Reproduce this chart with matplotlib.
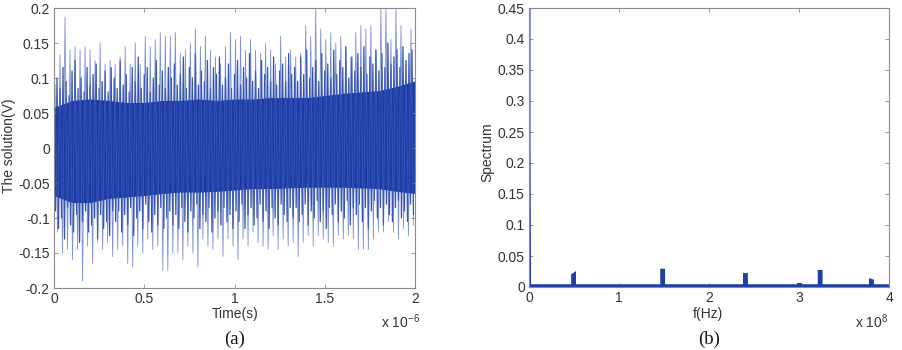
import numpy as np
import matplotlib
matplotlib.use("Agg")
import matplotlib.pyplot as plt

plt.rcParams['font.family'] = ['Liberation Sans', 'DejaVu Sans']
plt.rcParams['mathtext.default'] = 'regular'
plt.rcParams['path.simplify'] = False

# ---------------- data: panel (a) ----------------
# tall upper spikes (V), spread over 0..2e-6 s
spike_hi = [0.09, 0.133, 0.187, 0.14, 0.145, 0.14, 0.145, 0.14, 0.125, 0.15,
            0.12, 0.125, 0.12, 0.13, 0.145, 0.12, 0.15, 0.12, 0.16, 0.145,
            0.155, 0.165, 0.16, 0.16, 0.165, 0.135, 0.14, 0.15, 0.17, 0.145,
            0.16, 0.14, 0.13, 0.12, 0.145, 0.165, 0.155, 0.16, 0.14, 0.155,
            0.14, 0.135, 0.15, 0.14, 0.12, 0.16, 0.13, 0.14, 0.13, 0.135,
            0.175, 0.16, 0.2, 0.17, 0.155, 0.165, 0.15, 0.16, 0.14, 0.13,
            0.165, 0.175, 0.17, 0.175, 0.14, 0.2, 0.2, 0.155, 0.2, 0.175,
            0.12, 0.17]
# deep lower spikes (V)
spike_lo = [-0.12, -0.15, -0.145, -0.16, -0.145, -0.19, -0.14, -0.165, -0.135, -0.145,
            -0.135, -0.155, -0.145, -0.14, -0.165, -0.17, -0.14, -0.15, -0.13, -0.145,
            -0.14, -0.175, -0.175, -0.15, -0.15, -0.16, -0.14, -0.15, -0.17, -0.13,
            -0.14, -0.145, -0.13, -0.155, -0.13, -0.14, -0.16, -0.13, -0.14, -0.12,
            -0.135, -0.14, -0.145, -0.125, -0.145, -0.13, -0.14, -0.135, -0.155, -0.135,
            -0.125, -0.14, -0.125, -0.13, -0.135, -0.14, -0.125, -0.13, -0.125, -0.13,
            -0.145, -0.145, -0.145, -0.13, -0.12, -0.12, -0.105, -0.12, -0.13, -0.115,
            -0.125, -0.11]
# medium upper peaks forming the ragged top edge of the dense band (V)
mid_hi = [0.08, 0.1, 0.085, 0.115, 0.095, 0.075, 0.11, 0.125, 0.085, 0.1,
          0.08, 0.115, 0.09, 0.105, 0.12, 0.085, 0.095, 0.11, 0.08, 0.115,
          0.1, 0.085, 0.125, 0.09, 0.105, 0.08, 0.115, 0.095, 0.13, 0.085,
          0.105, 0.115, 0.08, 0.1, 0.125, 0.09, 0.11, 0.085, 0.115, 0.1,
          0.12, 0.09, 0.105, 0.13, 0.085, 0.115, 0.1, 0.135, 0.09, 0.11,
          0.095, 0.125, 0.085, 0.115, 0.105, 0.13, 0.09, 0.1, 0.12, 0.085,
          0.105, 0.125, 0.09, 0.115, 0.1, 0.135, 0.095, 0.11, 0.085, 0.125,
          0.105, 0.115, 0.095, 0.13, 0.09, 0.11, 0.12, 0.095, 0.135, 0.105,
          0.115, 0.095, 0.13, 0.105, 0.14, 0.1, 0.115, 0.125, 0.095, 0.135,
          0.11, 0.12, 0.1, 0.14, 0.105, 0.125, 0.115, 0.145, 0.1, 0.13,
          0.11, 0.135, 0.115, 0.145, 0.105, 0.13, 0.12, 0.14, 0.11, 0.135,
          0.115, 0.15, 0.12, 0.13, 0.14, 0.115, 0.145, 0.125, 0.135, 0.14]
# medium lower troughs forming the ragged bottom edge of the dense band (V)
mid_lo = [-0.09, -0.115, -0.1, -0.13, -0.085, -0.11, -0.12, -0.095, -0.135, -0.105,
          -0.09, -0.12, -0.11, -0.1, -0.13, -0.095, -0.115, -0.105, -0.125, -0.09,
          -0.105, -0.09, -0.12, -0.095, -0.11, -0.085, -0.125, -0.1, -0.09, -0.115,
          -0.08, -0.105, -0.12, -0.095, -0.11, -0.085, -0.115, -0.1, -0.09, -0.11,
          -0.095, -0.115, -0.085, -0.105, -0.12, -0.09, -0.1, -0.08, -0.115, -0.095,
          -0.105, -0.085, -0.12, -0.1, -0.09, -0.11, -0.085, -0.105, -0.095, -0.115,
          -0.09, -0.105, -0.08, -0.115, -0.095, -0.085, -0.11, -0.1, -0.08, -0.105,
          -0.09, -0.115, -0.085, -0.1, -0.11, -0.08, -0.095, -0.105, -0.085, -0.1,
          -0.085, -0.105, -0.095, -0.08, -0.11, -0.09, -0.1, -0.075, -0.105, -0.09,
          -0.115, -0.085, -0.095, -0.08, -0.105, -0.09, -0.1, -0.075, -0.11, -0.085,
          -0.095, -0.08, -0.105, -0.085, -0.115, -0.09, -0.075, -0.1, -0.085, -0.11,
          -0.08, -0.095, -0.105, -0.085, -0.075, -0.1, -0.09, -0.105, -0.08, -0.095]
# solid core band edges at t = 0, 0.1, ..., 2.0 (x 1e-6 s)
core_t_us = [0.0, 0.1, 0.2, 0.3, 0.4, 0.5, 0.6, 0.7, 0.8, 0.9, 1.0,
             1.1, 1.2, 1.3, 1.4, 1.5, 1.6, 1.7, 1.8, 1.9, 2.0]
core_hi = [0.058, 0.068, 0.07, 0.068, 0.065, 0.065, 0.068, 0.068, 0.07, 0.068, 0.07,
           0.07, 0.072, 0.072, 0.072, 0.075, 0.078, 0.08, 0.082, 0.088, 0.096]
core_lo = [-0.068, -0.078, -0.078, -0.072, -0.07, -0.068, -0.065, -0.063, -0.063, -0.062, -0.06,
           -0.058, -0.058, -0.057, -0.056, -0.056, -0.056, -0.057, -0.058, -0.062, -0.065]

# ---------------- data: panel (b) ----------------
freq_e8 = [0.0, 0.0, 0.006, 0.485, 0.485, 0.505, 0.505, 1.475, 1.475, 1.495, 1.495,
           2.395, 2.395, 2.415, 2.415, 2.995, 2.995, 3.015, 3.015, 3.225, 3.225, 3.245, 3.245,
           3.795, 3.795, 3.815, 3.815, 4.0]
spectrum = [0.47, 0.23, 0.002, 0.002, 0.019, 0.021, 0.002, 0.002, 0.027, 0.027, 0.002,
            0.002, 0.020, 0.020, 0.002, 0.002, 0.004, 0.004, 0.002, 0.002, 0.025, 0.025, 0.002,
            0.002, 0.011, 0.010, 0.002, 0.002]

# ---------------- figure ----------------
W, H = 902, 350
fig = plt.figure(figsize=(W / 100, H / 100), dpi=100)

txt = '#333333'
blue_dark = '#1c38a2'
spine_c = '#8a8a8a'
FS = 10

def style(ax):
    for s in ax.spines.values():
        s.set_color(spine_c)
        s.set_linewidth(0.8)
    ax.tick_params(direction='in', length=3, width=0.6, color=spine_c,
                   labelsize=FS, labelcolor=txt, top=True, right=True, pad=3)

def zigzag(hi, lo, phase):
    # alternate peaks and troughs along the 0..2e-6 s time axis
    n = len(hi)
    v = np.empty(2 * n)
    v[0::2] = hi
    v[1::2] = lo
    t = (np.arange(2 * n) + phase) * 2e-6 / (2 * n)
    return t, v

# panel (a)
ax1 = fig.add_axes([54 / W, 1 - 288 / H, 361 / W, 280 / H])
ax1.fill_between(np.array(core_t_us) * 1e-6, core_lo, core_hi, color=blue_dark, lw=0)
tm, vm = zigzag(mid_hi, mid_lo, 0.0)
ax1.plot(tm, vm, color='#2040a8', lw=0.9, alpha=0.9)
ts, vs = zigzag(spike_hi, spike_lo, 0.4)
ax1.plot(ts, vs, color='#4462c0', lw=0.6, alpha=0.7)
ax1.set_xlim(0, 2e-6)
ax1.set_ylim(-0.2, 0.2)
ax1.set_xticks([0, 0.5e-6, 1e-6, 1.5e-6, 2e-6])
ax1.set_xticklabels(['0', '0.5', '1', '1.5', '2'])
ax1.set_yticks(np.arange(-0.2, 0.201, 0.05))
ax1.set_yticklabels(['-0.2', '-0.15', '-0.1', '-0.05', '0', '0.05', '0.1', '0.15', '0.2'])
style(ax1)

# panel (b)
ax2 = fig.add_axes([529 / W, 1 - 287 / H, 360 / W, 279 / H])
ax2.plot(np.array(freq_e8) * 1e8, spectrum, color='#1f3fa5', lw=2.2, solid_joinstyle='miter')
ax2.set_xlim(0, 4e8)
ax2.set_ylim(0, 0.45)
ax2.set_xticks([0, 1e8, 2e8, 3e8, 4e8])
ax2.set_xticklabels(['0', '1', '2', '3', '4'])
ax2.set_yticks(np.arange(0, 0.451, 0.05))
ax2.set_yticklabels(['0', '0.05', '0.1', '0.15', '0.2', '0.25', '0.3', '0.35', '0.4', '0.45'])
style(ax2)

# labels
fig.text(235 / W, 1 - 314 / H, 'Time(s)', ha='center', va='center', fontsize=FS, color=txt)
fig.text(401 / W, 1 - 322 / H, r'x 10$^{-6}$', ha='center', va='center', fontsize=FS, color=txt)
fig.text(9 / W, 1 - 146 / H, 'The solution(V)', ha='center', va='center', rotation=90,
         fontsize=FS, color=txt)
fig.text(708 / W, 1 - 314 / H, 'f(Hz)', ha='center', va='center', fontsize=FS, color=txt)
fig.text(872 / W, 1 - 322 / H, r'x 10$^{8}$', ha='center', va='center', fontsize=FS, color=txt)
fig.text(487 / W, 1 - 152 / H, 'Spectrum', ha='center', va='center', rotation=90,
         fontsize=FS, color=txt)
fig.text(235 / W, 1 - 339 / H, '(a)', ha='center', va='center', fontsize=13.5,
         family=['Liberation Serif', 'DejaVu Serif'], color='#111111')
fig.text(709 / W, 1 - 339 / H, '(b)', ha='center', va='center', fontsize=13.5,
         family=['Liberation Serif', 'DejaVu Serif'], color='#111111')

fig.savefig('out.png', dpi=100)
